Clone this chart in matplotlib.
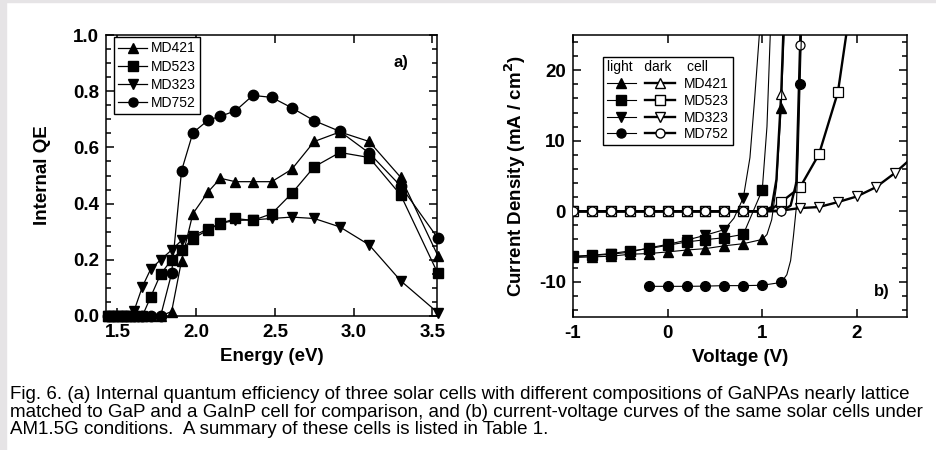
import matplotlib
matplotlib.use("Agg")
import matplotlib.pyplot as plt
from matplotlib.lines import Line2D
from matplotlib.patches import Rectangle
from matplotlib.ticker import MultipleLocator
import numpy as np

plt.rcParams['font.family'] = ['Liberation Sans', 'DejaVu Sans']
plt.rcParams['axes.unicode_minus'] = False

# (a) internal QE vs photon energy
energy = [1.44, 1.48, 1.52, 1.56, 1.605, 1.658, 1.711, 1.774, 1.844, 1.907, 1.979,
          2.076, 2.154, 2.249, 2.36, 2.48, 2.607, 2.75, 2.913, 3.099, 3.30, 3.535]
qe_md421 = [0, 0, 0, 0, 0, 0, 0, 0, 0.016, 0.197, 0.364, 0.442, 0.49, 0.478, 0.478,
            0.478, 0.522, 0.621, 0.655, 0.621, 0.493, 0.215]
qe_md523 = [0, 0, 0, 0, 0, 0, 0.068, 0.149, 0.20, 0.235, 0.275, 0.307, 0.329, 0.347,
            0.34, 0.364, 0.436, 0.531, 0.582, 0.564, 0.43, 0.152]
qe_md323 = [0, 0, 0, 0, 0.018, 0.104, 0.167, 0.20, 0.235, 0.269, 0.285, 0.31, 0.33,
            0.34, 0.342, 0.347, 0.352, 0.347, 0.317, 0.253, 0.125, 0.012]
qe_md752 = [0, 0, 0, 0, 0, 0, 0, 0, 0.152, 0.517, 0.652, 0.697, 0.711, 0.730, 0.785,
            0.778, 0.741, 0.695, 0.657, 0.58, 0.462, 0.277]

cells = ['MD421', 'MD523', 'MD323', 'MD752']
markers = ['^', 's', 'v', 'o']

# (b) J-V curves, light (filled) and dark (open)
v_grid = [-1.0, -0.8, -0.6, -0.4, -0.2, 0.0, 0.2, 0.4, 0.6, 0.8, 1.0]

v_421_light = v_grid + [1.05, 1.1, 1.15, 1.2, 1.24]
j_421_light = [-6.56, -6.47, -6.38, -6.1, -6.0, -5.77, -5.5, -5.3, -4.9, -4.6, -4.0,
               -3.3, -1.2, 3.5, 14.6, 28]
v_523_light = v_grid + [1.05, 1.09]
j_523_light = [-6.38, -6.24, -6.0, -5.63, -5.3, -4.83, -4.36, -4.03, -3.75, -3.28, 3.0,
               12, 27]
v_323_light = [-1.0, -0.8, -0.6, -0.4, -0.2, 0.0, 0.2, 0.4, 0.6, 0.7, 0.8, 0.87, 0.92, 0.98]
j_323_light = [-6.45, -6.3, -6.1, -5.8, -5.2, -4.7, -4.1, -3.4, -2.6, -1.0, 1.9, 7.6, 16, 27]
v_752_light = [-0.2, 0.0, 0.2, 0.4, 0.6, 0.8, 1.0, 1.2, 1.26, 1.3, 1.33, 1.36, 1.38, 1.4, 1.42]
j_752_light = [-10.65, -10.65, -10.65, -10.62, -10.55, -10.55, -10.5, -10.1, -9.0, -7.0,
               -3.5, 0.5, 8, 18.1, 28]

v_421_dark = v_grid + [1.1, 1.15, 1.2, 1.23]
j_421_dark = [0] * 11 + [0.6, 4.5, 16.6, 28]
v_523_dark = v_grid + [1.1, 1.2, 1.4, 1.6, 1.8, 1.92]
j_523_dark = [0] * 11 + [0.3, 1.3, 3.4, 8.1, 16.9, 28]
v_323_dark = v_grid + [1.2, 1.4, 1.6, 1.8, 2.0, 2.2, 2.4, 2.6]
j_323_dark = [0] * 11 + [0.1, 0.45, 0.6, 1.3, 2.1, 3.4, 5.4, 7.8]
v_752_dark = v_grid + [1.2, 1.3, 1.36, 1.4, 1.41]
j_752_dark = [0] * 11 + [0.0, 0.8, 4.0, 23.6, 28]

caption = ("Fig. 6. (a) Internal quantum efficiency of three solar cells with different compositions of GaNPAs nearly lattice\n"
           "matched to GaP and a GaInP cell for comparison, and (b) current-voltage curves of the same solar cells under\n"
           "AM1.5G conditions.  A summary of these cells is listed in Table 1.")


def on_grid(v):
    # markers only at the 0.2 V measurement steps
    v = np.asarray(v)
    return list(np.where(np.isclose(np.round(v * 5), v * 5))[0])


def style_axes(ax):
    ax.tick_params(which='both', direction='in', top=True, right=True, width=1.1)
    ax.tick_params(which='major', length=6, labelsize=13.5)
    ax.tick_params(axis='x', which='major', pad=6)
    ax.tick_params(axis='y', which='major', pad=5)
    ax.tick_params(which='minor', length=3.5)
    for lab in ax.get_xticklabels() + ax.get_yticklabels():
        lab.set_fontweight('bold')
    for sp in ax.spines.values():
        sp.set_linewidth(1.1)


fig = plt.figure(figsize=(9.36, 4.5), dpi=100)
fig.patches.append(Rectangle((0, 0), 6 / 936, 1, transform=fig.transFigure,
                             color='#e6e4e6', zorder=0))
fig.patches.append(Rectangle((0, 1 - 2 / 450), 1, 2 / 450, transform=fig.transFigure,
                             color='#e6e4e6', zorder=0))

# ---- panel a ----
ax1 = fig.add_axes([106 / 936, 1 - 316 / 450, 331 / 936, 281 / 450])
for qe, mk, name in zip([qe_md421, qe_md523, qe_md323, qe_md752], markers, cells):
    ax1.plot(energy, qe, color='k', lw=0.9, marker=mk, ms=7.5, mfc='k', mec='k',
             label=name, clip_on=False, zorder=3)
ax1.set_xlim(1.427, 3.53)
ax1.set_ylim(0, 1.0)
ax1.yaxis.set_minor_locator(MultipleLocator(0.05))
ax1.set_xticks([1.5, 2.0, 2.5, 3.0, 3.5])
ax1.set_xticklabels(['1.5', '2.0', '2.5', '3.0', '3.5'])
ax1.set_yticks([0, 0.2, 0.4, 0.6, 0.8, 1.0])
ax1.set_yticklabels(['0.0', '0.2', '0.4', '0.6', '0.8', '1.0'])
style_axes(ax1)
ax1.set_xlabel('Energy (eV)', fontsize=13.5, fontweight='bold', labelpad=5)
ax1.set_ylabel('Internal QE', fontsize=13.5, fontweight='bold', labelpad=16)
ax1.text(0.87, 0.885, 'a)', transform=ax1.transAxes, fontsize=12, fontweight='bold')
leg1 = ax1.legend(loc='upper left', bbox_to_anchor=(0.024, 0.992), fontsize=10,
                  frameon=True, fancybox=False, edgecolor='k', framealpha=1,
                  handlelength=2.1, handletextpad=0.25, borderpad=0.3,
                  labelspacing=0.3, borderaxespad=0)
leg1.get_frame().set_linewidth(1.0)
for h in leg1.legend_handles:
    h.set_markersize(6.5)

# ---- panel b ----
ax2 = fig.add_axes([573 / 936, 1 - 317 / 450, 334 / 936, 282 / 450])
light = [(v_421_light, j_421_light), (v_523_light, j_523_light),
         (v_323_light, j_323_light), (v_752_light, j_752_light)]
dark = [(v_421_dark, j_421_dark), (v_523_dark, j_523_dark),
        (v_323_dark, j_323_dark), (v_752_dark, j_752_dark)]
for (v, j), mk in zip(dark, markers):
    ax2.plot(v, j, color='k', lw=1.7, marker=mk, ms=6.5, mfc='white', mec='k', mew=0.9,
             markevery=on_grid(v), zorder=3)
for (v, j), mk in zip(light, markers):
    ax2.plot(v, j, color='k', lw=0.8, marker=mk, ms=7, mfc='k', mec='k',
             markevery=on_grid(v), zorder=4)
ax2.set_xlim(-1, 2.53)
ax2.set_ylim(-15, 25)
ax2.set_xticks([-1, 0, 1, 2])
ax2.set_yticks([-10, 0, 10, 20])
ax2.yaxis.set_minor_locator(MultipleLocator(2))
style_axes(ax2)
ax2.set_xlabel('Voltage (V)', fontsize=13.5, fontweight='bold', labelpad=5)
ax2.set_ylabel('Current Density (mA / cm$^\\mathbf{2}$)', fontsize=13.5, fontweight='bold',
               labelpad=8)
ax2.text(0.9, 0.075, 'b)', transform=ax2.transAxes, fontsize=12, fontweight='bold')

h_light = [Line2D([], [], color='k', lw=0.8, marker=mk, ms=6.5, mfc='k', mec='k')
           for mk in markers]
h_dark = [Line2D([], [], color='k', lw=1.7, marker=mk, ms=6.5, mfc='white', mec='k')
          for mk in markers]
leg2 = ax2.legend(h_light + h_dark, [''] * 4 + cells, ncol=2, loc='upper left',
                  bbox_to_anchor=(0.09, 0.923), fontsize=10, title='light   dark    cell',
                  title_fontsize=10, alignment='left', frameon=True, fancybox=False,
                  edgecolor='k', framealpha=1, handlelength=2.1, handletextpad=0.7,
                  columnspacing=0.0, borderpad=0.25, labelspacing=0.2, borderaxespad=0)
leg2.get_frame().set_linewidth(1.0)

fig.text(10 / 936, 1 - 386 / 450, caption, fontsize=13.5, va='top', ha='left',
         linespacing=1.05)

fig.savefig('out.png', dpi=100)
